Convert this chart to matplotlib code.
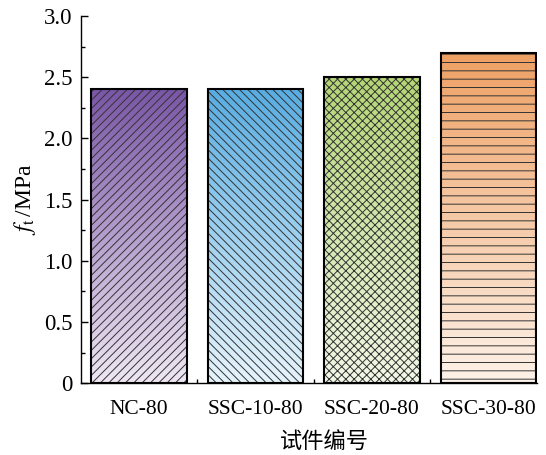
import numpy as np
import matplotlib
matplotlib.use("Agg")
import matplotlib.pyplot as plt
from matplotlib.colors import LinearSegmentedColormap
from matplotlib.ticker import MultipleLocator, FuncFormatter, FixedLocator

categories = ["NC-80", "SSC-10-80", "SSC-20-80", "SSC-30-80"]
values = [2.4, 2.4, 2.5, 2.7]
top_colors = ["#7a56a7", "#58ade2", "#b4d674", "#eea063"]
bottom_colors = ["#efe7f3", "#e6f4fc", "#f2f8e7", "#fdf2e9"]
hatches = ["////", "\\\\\\\\", "xxxx", "--"]

plt.rcParams['font.family'] = ['Liberation Serif', 'Noto Sans CJK SC']
plt.rcParams['mathtext.fontset'] = 'stix'
plt.rcParams['hatch.linewidth'] = 0.7

fig = plt.figure(figsize=(5.46, 4.55), dpi=100)
ax = fig.add_axes([0.148, 0.158, 0.836, 0.807])

x = np.arange(len(categories))
width = 0.82
grad = np.linspace(0, 1, 256).reshape(-1, 1)
for i, v in enumerate(values):
    cmap = LinearSegmentedColormap.from_list(f"c{i}", [bottom_colors[i], top_colors[i]])
    outline = ax.bar(x[i], v, width, facecolor='none', edgecolor='black', linewidth=1.5, zorder=4)[0]
    im = ax.imshow(grad, extent=[x[i]-width/2, x[i]+width/2, 0, v], origin='lower',
                   cmap=cmap, aspect='auto', zorder=2)
    im.set_clip_path(outline)
    ax.bar(x[i], v, width, facecolor='none', edgecolor='#333333', linewidth=0,
           hatch=hatches[i], zorder=3)

ax.set_xlim(-0.5, 3.42)
ax.set_ylim(0, 3.0)
ax.spines['top'].set_visible(False)
ax.spines['right'].set_visible(False)
ax.spines['left'].set_linewidth(1.0)
ax.spines['bottom'].set_linewidth(1.0)

ax.set_xticks(x)
ax.set_xticklabels(categories)
ax.xaxis.set_minor_locator(FixedLocator([0.5, 1.5, 2.5]))
ax.yaxis.set_major_locator(MultipleLocator(0.5))
ax.yaxis.set_minor_locator(MultipleLocator(0.25))
ax.yaxis.set_major_formatter(FuncFormatter(lambda v, p: "0" if abs(v) < 1e-9 else f"{v:.1f}"))
ax.tick_params(axis='both', which='major', direction='in', length=5, width=1.0, pad=6)
ax.tick_params(axis='both', which='minor', direction='in', length=3, width=1.0)
ax.tick_params(axis='y', which='major', labelsize=16.5)
ax.tick_params(axis='x', which='major', labelsize=15.5, pad=12)

ax.set_xlabel("试件编号", fontsize=16, family=['Noto Sans CJK SC'])
ax.xaxis.set_label_coords(0.533, -0.128)
ax.set_ylabel(r"$f_{\mathrm{t}}\,$/MPa", fontsize=17, labelpad=4)

fig.savefig("out.png", dpi=100)
